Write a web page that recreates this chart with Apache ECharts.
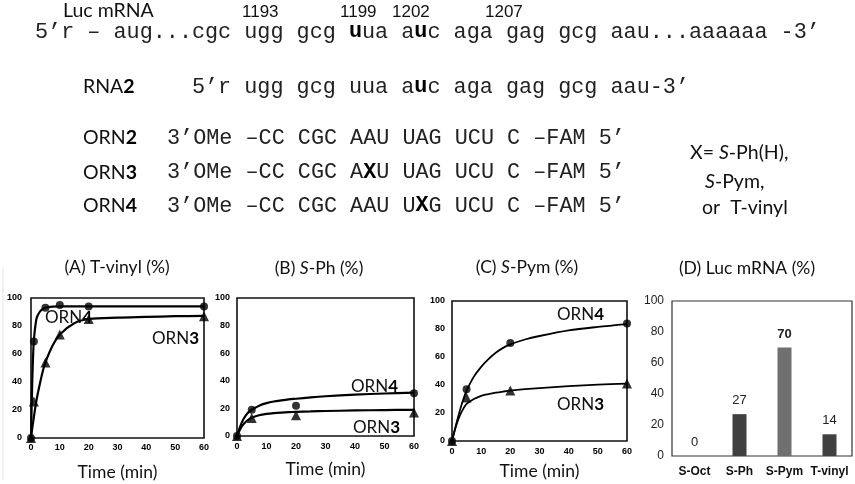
<!DOCTYPE html>
<html>
<head>
<meta charset="utf-8">
<script src="https://cdn.jsdelivr.net/npm/echarts@6/dist/echarts.min.js"></script>
<style>
  html, body { margin: 0; padding: 0; background: #fff; }
  #fig { width: 855px; height: 484px; }
</style>
</head>
<body>
<div id="fig"></div>
<script>
// ---- data ----
// (A) T-vinyl : measured points
var aOrn4Pts = [[0, 0], [1, 69], [5, 93], [10, 95], [20, 94], [60, 94]];
var aOrn3Pts = [[0, 0], [1, 26], [5, 54], [10, 74], [20, 85], [60, 87]];
// fitted curves as drawn (time, %)
var aFitT    = [0, 0.25, 0.5, 0.75, 1, 1.5, 2, 3, 4, 5, 7.5, 10, 15, 20, 30, 40, 50, 60];
var aOrn4Fit = [0, 25, 45, 60, 70, 80, 86, 90, 92, 93, 93.8, 94, 94, 94, 94, 94, 94, 94];
var aOrn3Fit = [0, 4, 8, 11.5, 15, 22, 28, 38, 47, 54, 66, 74, 82, 85, 86, 86.5, 87, 87.2];
// (B) S-Ph
var bOrn4Pts = [[0, 0], [5, 19], [20, 22], [60, 31]];
var bOrn3Pts = [[0, 0], [5, 13], [20, 15], [60, 17]];
var fitT     = [0, 1, 2, 3, 4, 5, 7.5, 10, 12.5, 15, 17.5, 20, 25, 30, 40, 50, 60];
var bOrn4Fit = [0, 6.5, 11.5, 15, 17.5, 19, 22, 23.8, 25, 25.8, 26.5, 27, 28, 28.8, 30, 30.8, 31.5];
var bOrn3Fit = [0, 4.5, 8, 10.3, 12, 13.2, 15, 16, 16.6, 17, 17.3, 17.5, 17.8, 18.1, 18.5, 18.8, 19];
// (C) S-Pym
var cOrn4Pts = [[0, 0], [5, 37], [20, 70], [60, 84]];
var cOrn3Pts = [[0, 0], [5, 31], [20, 36], [60, 41]];
var cOrn4Fit = [0, 8.5, 16.5, 24, 30.5, 36, 46, 53, 58.5, 63, 66.5, 69, 72.5, 75, 79, 81.5, 83.5];
var cOrn3Fit = [0, 8, 14.5, 19.5, 23.5, 26.5, 30, 32.3, 33.5, 34.5, 35.3, 36, 37, 37.8, 39.2, 40.2, 41];
// (D) Luc mRNA
var dCats = ['S-Oct', 'S-Ph', 'S-Pym', 'T-vinyl'];
var dVals = [0, 27, 70, 14];

// ---- styles ----
var SANS = 'Lato';
var MONO = '"Liberation Mono", "Courier New", monospace';
var ARIAL = '"Liberation Sans", Arial, sans-serif';
var dColors = ['#404040', '#404040', '#707070', '#404040'];
var dBold = [false, false, true, false];

var chart = echarts.init(document.getElementById('fig'));

function txt(x, y, text, family, size, align, extra) {
  var st = {
    text: text, fontFamily: family, fontSize: size, fill: '#111',
    align: align || 'left', verticalAlign: 'middle',
    textAlign: align || 'left', textVerticalAlign: 'middle',
    rich: {
      b: { fontFamily: family, fontSize: size, fontWeight: 'bold', fill: '#000' },
      i: { fontFamily: family, fontSize: size, fontStyle: 'italic', fill: '#111' }
    }
  };
  if (extra) for (var k in extra) st[k] = extra[k];
  return { type: 'text', x: x, y: y, style: st, silent: true };
}

var CH = 13.08; // mono advance at 21.8px
var graphics = [
  txt(63, 11, 'Luc mRNA', SANS, 19.5),
  txt(242, 12, '1193', ARIAL, 17),
  txt(340, 12, '1199', ARIAL, 17),
  txt(392, 12, '1202', ARIAL, 17),
  txt(485, 12, '1207', ARIAL, 17),
  txt(35, 32, '5’r – aug...cgc ugg gcg {b|u}ua a{b|u}c aga gag gcg aau...aaaaaa -3’', MONO, 21.8, 'left', { fill: '#222' }),
  txt(83, 87, 'RNA{b|2}', SANS, 19.5),
  txt(35 + 12 * CH, 87, '5’r ugg gcg uua a{b|u}c aga gag gcg aau-3’', MONO, 21.8, 'left', { fill: '#222' }),
  txt(83, 138, 'ORN{b|2}', SANS, 19.5),
  txt(83, 172.5, 'ORN{b|3}', SANS, 19.5),
  txt(83, 206, 'ORN{b|4}', SANS, 19.5),
  txt(167, 138, '3’OMe –CC CGC AAU UAG UCU C –FAM 5’', MONO, 21.8, 'left', { fill: '#222' }),
  txt(167, 172.5, '3’OMe –CC CGC A{b|X}U UAG UCU C –FAM 5’', MONO, 21.8, 'left', { fill: '#222' }),
  txt(167, 206, '3’OMe –CC CGC AAU U{b|X}G UCU C –FAM 5’', MONO, 21.8, 'left', { fill: '#222' }),
  txt(690, 153, 'X= {i|S}-Ph(H),', SANS, 19.5),
  txt(705, 181.5, '{i|S}-Pym,', SANS, 19.5),
  txt(702, 208, 'or  T-vinyl', SANS, 19.5),
  // panel titles
  txt(117, 267, '(A) T-vinyl (%)', SANS, 17.5, 'center'),
  txt(319, 268, '(B) {i|S}-Ph (%)', SANS, 17.5, 'center'),
  txt(527, 267, '(C) {i|S}-Pym (%)', SANS, 17.5, 'center'),
  txt(747, 268, '(D) Luc mRNA (%)', SANS, 17.5, 'center'),
  // curve labels
  txt(45, 318, 'ORN{b|4}', SANS, 17),
  txt(152, 339, 'ORN{b|3}', SANS, 17),
  txt(351, 387, 'ORN{b|4}', SANS, 17),
  txt(353, 428, 'ORN{b|3}', SANS, 17),
  txt(557, 315, 'ORN{b|4}', SANS, 17),
  txt(557, 405, 'ORN{b|3}', SANS, 17),
  { type: 'line', silent: true, shape: { x1: 3, y1: 268, x2: 3, y2: 480 }, style: { stroke: '#e2e2e2', lineWidth: 1 } }
];

var grids = [
  { left: 31, top: 298, width: 173, height: 140 },
  { left: 237, top: 298, width: 177, height: 138 },
  { left: 452, top: 301, width: 175, height: 140 },
  { left: 672, top: 301, width: 180, height: 155 }
].map(function (g, i) {
  g.show = true;
  g.borderColor = i === 3 ? '#333' : '#111';
  g.borderWidth = i === 3 ? 1.2 : 1.6;
  g.backgroundColor = 'transparent';
  g.containLabel = false;
  g.outerBoundsMode = 'none';
  return g;
});

var tickFont = { fontFamily: ARIAL, fontSize: 9, fontWeight: 'bold', color: '#000' };

function timeAxis(gi, gap, lm) {
  return {
    type: 'value', gridIndex: gi, min: 0, max: 60, interval: 10,
    axisLine: { show: false }, axisTick: { show: false }, splitLine: { show: false },
    axisLabel: Object.assign({ margin: lm }, tickFont),
    name: 'Time (min)', nameLocation: 'middle', nameGap: gap,
    nameTextStyle: { fontFamily: SANS, fontSize: 17.5, color: '#111' }
  };
}
function pctAxis(gi, margin, font) {
  return {
    type: 'value', gridIndex: gi, min: 0, max: 100, interval: 20,
    axisLine: { show: false }, axisTick: { show: false }, splitLine: { show: false },
    axisLabel: Object.assign({ margin: margin }, font)
  };
}

var xAxes = [
  timeAxis(0, 25, 5),
  timeAxis(1, 24, 6),
  timeAxis(2, 21, 6),
  {
    type: 'category', gridIndex: 3, data: dCats,
    axisLine: { show: false }, axisTick: { show: false },
    axisLabel: { interval: 0, hideOverlap: false, margin: 10, fontFamily: ARIAL, fontSize: 12, fontWeight: 'bold', color: '#111' }
  }
];
var yAxes = [
  pctAxis(0, 9, tickFont),
  pctAxis(1, 7, tickFont),
  pctAxis(2, 7, tickFont),
  pctAxis(3, 8, { fontFamily: ARIAL, fontSize: 12, color: '#222' })
];

function pair(ts, vs) {
  return ts.map(function (t, i) { return [t, vs[i]]; });
}
function fit(gi, data, w) {
  return {
    type: 'line', xAxisIndex: gi, yAxisIndex: gi, data: data,
    showSymbol: false, smooth: 0.3,
    lineStyle: { color: '#000', width: w }, silent: true, z: 2
  };
}
function pts(gi, data, sym, size) {
  return {
    type: 'scatter', xAxisIndex: gi, yAxisIndex: gi, data: data,
    symbol: sym, symbolSize: size, itemStyle: { color: '#000' }, silent: true, z: 3
  };
}

var barData = dVals.map(function (v, i) {
  return {
    value: v,
    itemStyle: { color: dColors[i] },
    label: { fontWeight: dBold[i] ? 'bold' : 'normal' }
  };
});

var series = [
  fit(0, pair(aFitT, aOrn4Fit), 2.2), fit(0, pair(aFitT, aOrn3Fit), 2.2),
  pts(0, aOrn4Pts, 'circle', 8), pts(0, aOrn3Pts, 'triangle', 10),
  fit(1, pair(fitT, bOrn4Fit), 2.2), fit(1, pair(fitT, bOrn3Fit), 2.2),
  pts(1, bOrn4Pts, 'circle', 8), pts(1, bOrn3Pts, 'triangle', 10),
  fit(2, pair(fitT, cOrn4Fit), 1.8), fit(2, pair(fitT, cOrn3Fit), 1.8),
  pts(2, cOrn4Pts, 'circle', 8), pts(2, cOrn3Pts, 'triangle', 10),
  {
    type: 'bar', xAxisIndex: 3, yAxisIndex: 3, data: barData, barWidth: 14, silent: true,
    label: { show: true, position: 'top', distance: 7, fontFamily: ARIAL, fontSize: 13, color: '#222' }
  }
];

chart.setOption({
  animation: false,
  backgroundColor: '#fff',
  grid: grids,
  xAxis: xAxes,
  yAxis: yAxes,
  series: series,
  graphic: graphics
});
</script>
</body>
</html>
